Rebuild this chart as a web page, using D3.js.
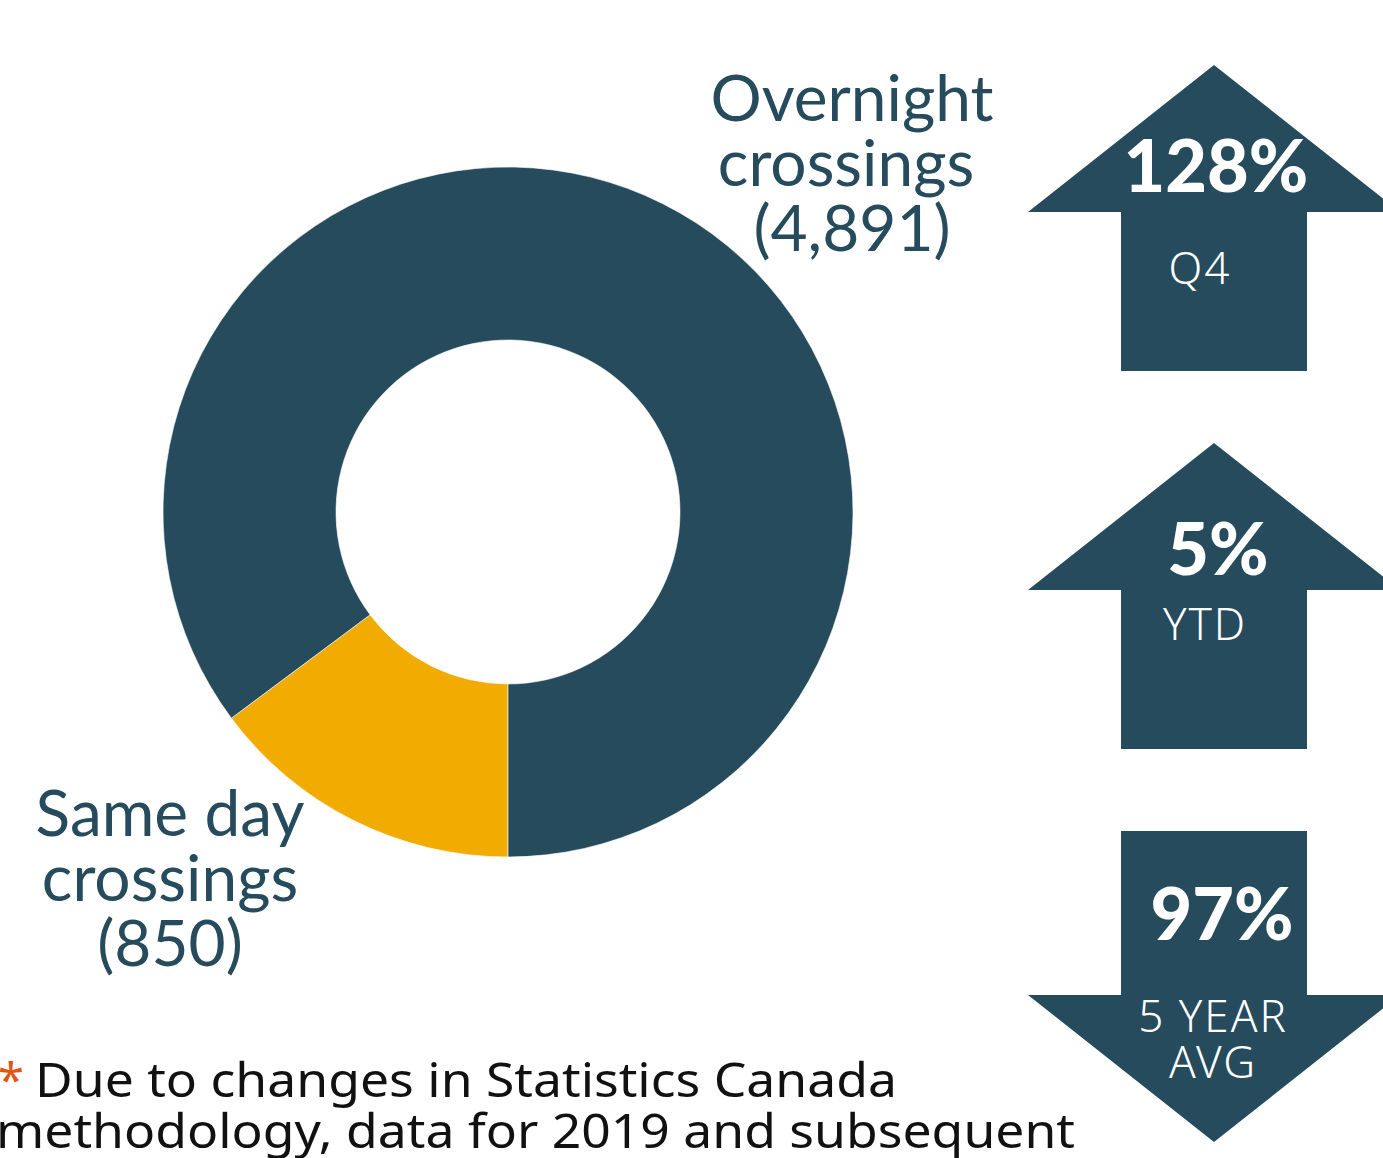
<!DOCTYPE html>
<html>
<head>
<meta charset="utf-8">
<script src="https://cdn.jsdelivr.net/npm/d3@7"></script>
<style>
  html, body { margin: 0; padding: 0; background: #fff; overflow: hidden; }
</style>
</head>
<body>
<svg id="chart" width="1383" height="1158"></svg>
<script>
// data
var categories = ["Same day crossings", "Overnight crossings"];
var values = [850, 4891];
var colors = ["#f2ab00", "#264b5c"];

var arrowValues = ["128%", "5%", "97%"];
var arrowLabels = [["Q4"], ["YTD"], ["5 YEAR", "AVG"]];
var arrowDirs = ["up", "up", "down"];

var footnote = ["Due to changes in Statistics Canada", "methodology, data for 2019 and subsequent"];

var svg = d3.select("#chart");
var dark = "#264b5c";

// donut
var cx = 508, cy = 512;
var pie = d3.pie().sort(null).startAngle(Math.PI).endAngle(3 * Math.PI);
var arc = d3.arc().innerRadius(172).outerRadius(345);

svg.append("g")
  .attr("transform", "translate(" + cx + "," + cy + ")")
  .selectAll("path")
  .data(pie(values))
  .enter()
  .append("path")
  .attr("d", arc)
  .attr("fill", function (d, i) { return colors[i]; })
  .attr("stroke", "#fff")
  .attr("stroke-width", 0.6);

// labels
function fmt(v) { return "(" + d3.format(",")(v) + ")"; }
var labelPos = [
  { x: 170, y: 836, dx: [0, 0, 0] },   // same day
  { x: 852, y: 121, dx: [0, -6, 0] }   // overnight
];
categories.forEach(function (c, i) {
  var words = c.split(" ");
  var lines = [words.slice(0, words.length - 1).join(" "), words[words.length - 1], fmt(values[i])];
  var t = svg.append("text")
    .attr("text-anchor", "middle")
    .style("font-family", "Lato, sans-serif")
    .style("font-size", "64px")
    .attr("fill", dark);
  lines.forEach(function (l, j) {
    t.append("tspan")
      .attr("x", labelPos[i].x + labelPos[i].dx[j])
      .attr("y", labelPos[i].y + j * 65)
      .text(l);
  });
});

// arrows
var ax = 1214;          // arrow centre x
var shaftHalf = 93, wingHalf = 186;
var arrowTops = [65, 443, 831];
var headH = 147, shaftH = 159;

arrowDirs.forEach(function (dir, i) {
  var y0 = arrowTops[i];
  var pts;
  if (dir === "up") {
    pts = [
      [ax, y0], [ax + wingHalf, y0 + headH], [ax + shaftHalf, y0 + headH],
      [ax + shaftHalf, y0 + headH + shaftH], [ax - shaftHalf, y0 + headH + shaftH],
      [ax - shaftHalf, y0 + headH], [ax - wingHalf, y0 + headH]
    ];
  } else {
    var sh = 164, hh = 147;
    pts = [
      [ax - shaftHalf, y0], [ax + shaftHalf, y0], [ax + shaftHalf, y0 + sh],
      [ax + wingHalf, y0 + sh], [ax, y0 + sh + hh],
      [ax - wingHalf, y0 + sh], [ax - shaftHalf, y0 + sh]
    ];
  }
  svg.append("path")
    .attr("d", d3.line()(pts) + "Z")
    .attr("fill", dark);
});

var valPos = [{ x: 1216, y: 192 }, { x: 1218, y: 575 }, { x: 1222, y: 940 }];
var labPos = [{ x: 1200, y: 284 }, { x: 1205, y: 640 }, { x: 1213, y: 1032 }];

arrowValues.forEach(function (v, i) {
  svg.append("text")
    .attr("x", valPos[i].x)
    .attr("y", valPos[i].y)
    .attr("text-anchor", "middle")
    .style("font-family", "Lato, sans-serif")
    .style("font-weight", "900")
    .style("font-size", "72px")
    .attr("fill", "#fff")
    .text(v);
  var t = svg.append("text")
    .attr("text-anchor", "middle")
    .style("font-family", "'Noto Sans', sans-serif")
    .style("font-weight", "300")
    .style("font-size", "44px")
    .style("letter-spacing", "2px")
    .attr("fill", "#fff");
  arrowLabels[i].forEach(function (l, j) {
    t.append("tspan")
      .attr("x", labPos[i].x)
      .attr("y", labPos[i].y + j * 46)
      .text(l);
  });
});

// footnote
var fn = svg.append("text")
  .style("font-family", "'Noto Sans', sans-serif")
  .style("font-size", "47px")
  .attr("fill", "#111");
fn.append("tspan").attr("x", -2).attr("y", 1097).attr("fill", "#e0560f").text("*");
fn.append("tspan").attr("x", 35).attr("y", 1097)
  .attr("textLength", 862).attr("lengthAdjust", "spacingAndGlyphs")
  .text(footnote[0]);
fn.append("tspan").attr("x", -4).attr("y", 1148)
  .attr("textLength", 1079).attr("lengthAdjust", "spacingAndGlyphs")
  .text(footnote[1]);
</script>
</body>
</html>
